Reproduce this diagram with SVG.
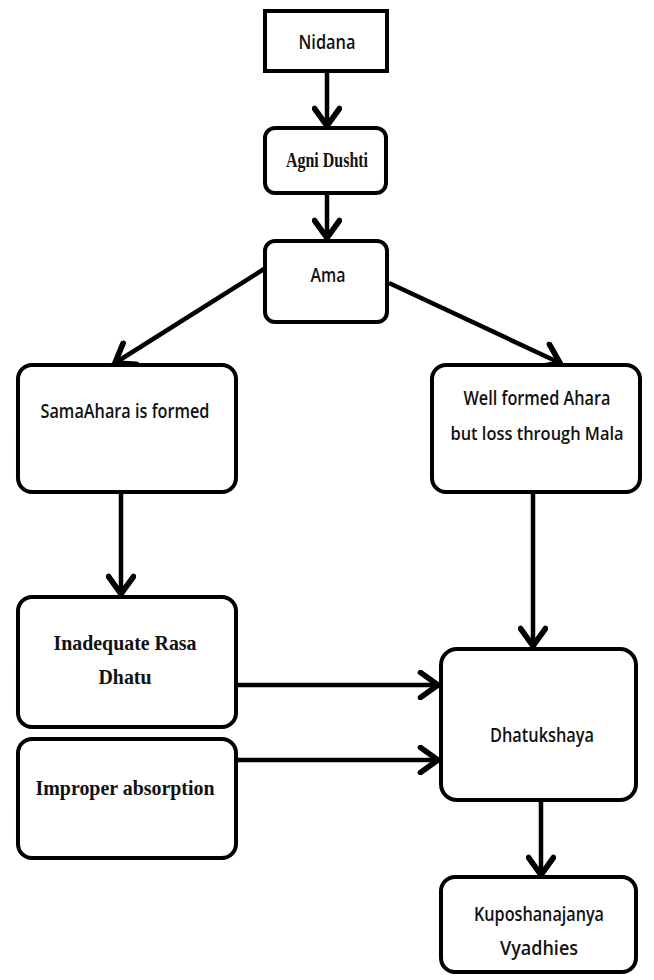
<svg xmlns="http://www.w3.org/2000/svg" width="654" height="980" viewBox="0 0 654 980">
<defs>
<marker id="ah" markerUnits="userSpaceOnUse" markerWidth="30" markerHeight="30" viewBox="-16 -12 20 24" refX="0" refY="0" orient="auto">
<path d="M-14,-10 L0,0 L-14,10" fill="none" stroke="#000" stroke-width="4.5" stroke-linejoin="miter" stroke-linecap="round"/>
</marker>
</defs>
<style>
.box{fill:#fff;stroke:#000;stroke-width:4}
.s{font-family:"Open Sans","Liberation Sans",sans-serif;font-weight:600;font-size:20px;fill:#111;text-anchor:middle}
.t{font-family:"Liberation Serif",serif;font-weight:bold;font-size:22px;fill:#111;text-anchor:middle}
.c{stroke:#000;stroke-width:4.5;fill:none;marker-end:url(#ah)}
</style>
<rect width="654" height="980" fill="#fff"/>
<g id="connectors">
<line class="c" x1="327" y1="72" x2="327" y2="126"/>
<line class="c" x1="327" y1="193" x2="327" y2="238"/>
<line class="c" x1="264" y1="269" x2="115" y2="363"/>
<line class="c" x1="389" y1="283" x2="560" y2="363"/>
<line class="c" x1="121" y1="493" x2="121" y2="594"/>
<line class="c" x1="533" y1="493" x2="533" y2="646"/>
<line class="c" x1="237" y1="685" x2="438" y2="685"/>
<line class="c" x1="237" y1="760" x2="438" y2="760"/>
<line class="c" x1="541" y1="801" x2="541" y2="875"/>
</g>
<g id="n1"><rect class="box" x="265" y="11" width="122" height="60"/><text class="s" x="327" y="49" textLength="57" lengthAdjust="spacingAndGlyphs">Nidana</text></g>
<g id="n2"><rect class="box" x="265" y="128" width="121" height="65" rx="10"/><text class="t" x="327" y="167" textLength="82" lengthAdjust="spacingAndGlyphs">Agni Dushti</text></g>
<g id="n3"><rect class="box" x="265" y="241" width="122" height="81" rx="10"/><text class="s" x="328" y="282" textLength="35" lengthAdjust="spacingAndGlyphs">Ama</text></g>
<g id="n4"><rect class="box" x="18" y="365" width="218" height="127" rx="14"/><text class="s" x="125" y="418" textLength="169" lengthAdjust="spacingAndGlyphs">SamaAhara is formed</text></g>
<g id="n5"><rect class="box" x="432" y="365" width="208" height="127" rx="14"/><text class="s" x="537" y="405" textLength="147" lengthAdjust="spacingAndGlyphs">Well formed Ahara</text><text class="s" x="537" y="440" style="font-size:18px" textLength="173" lengthAdjust="spacingAndGlyphs">but loss through Mala</text></g>
<g id="n6"><rect class="box" x="18" y="597" width="218" height="130" rx="14"/><text class="t" x="125" y="650" textLength="143" lengthAdjust="spacingAndGlyphs">Inadequate Rasa</text><text class="t" x="125" y="684" textLength="53" lengthAdjust="spacingAndGlyphs">Dhatu</text></g>
<g id="n7"><rect class="box" x="441" y="649" width="195" height="151" rx="16"/><text class="s" x="542" y="742" textLength="104" lengthAdjust="spacingAndGlyphs">Dhatukshaya</text></g>
<g id="n8"><rect class="box" x="18" y="739" width="218" height="119" rx="14"/><text class="t" x="125" y="795" textLength="179" lengthAdjust="spacingAndGlyphs">Improper absorption</text></g>
<g id="n9"><rect class="box" x="441" y="877" width="195" height="95" rx="14"/><text class="s" x="539" y="921" textLength="130" lengthAdjust="spacingAndGlyphs">Kuposhanajanya</text><text class="s" x="539" y="955" textLength="78" lengthAdjust="spacingAndGlyphs">Vyadhies</text></g>
</svg>
